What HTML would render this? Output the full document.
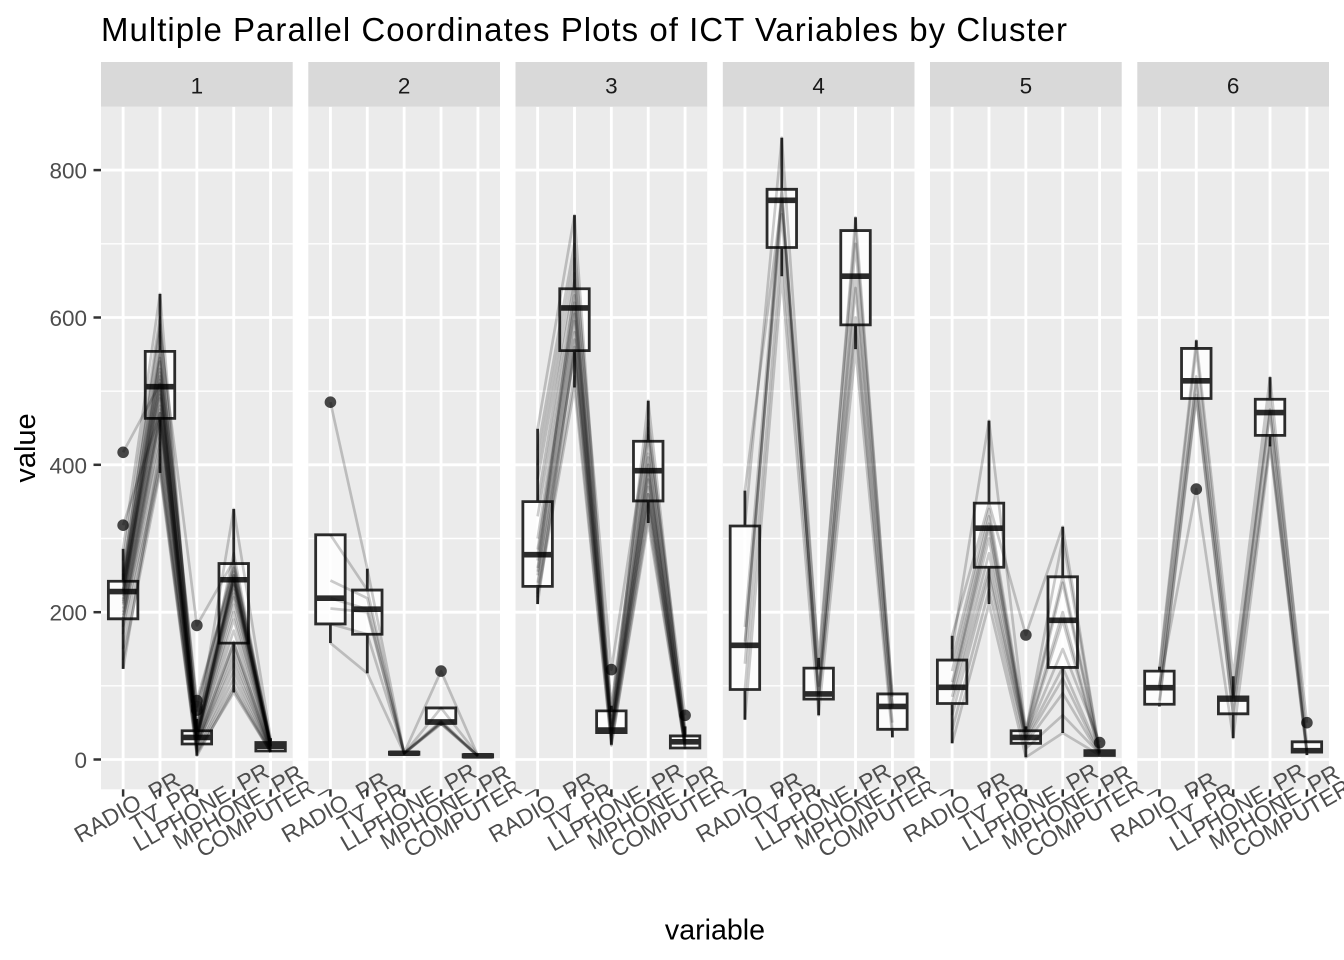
<!DOCTYPE html>
<html><head><meta charset="utf-8"><style>
html,body{margin:0;padding:0;background:#fff}
svg{display:block}
.bx{fill:#fff;fill-opacity:.85;stroke:#2b2b2b;stroke-width:2.8;vector-effect:non-scaling-stroke}
.wk{stroke:#2b2b2b;stroke-width:2.8;vector-effect:non-scaling-stroke}
.md{stroke:#2b2b2b;stroke-width:5.6;vector-effect:non-scaling-stroke}
.ln polyline{fill:none;stroke:#000;stroke-opacity:.2;stroke-width:2.7;stroke-linejoin:round;vector-effect:non-scaling-stroke}
.gmin line{stroke:#fff;stroke-width:1.42}
.gmaj line{stroke:#fff;stroke-width:2.84}
.tk line{stroke:#333;stroke-width:2.5}
.st{font-family:"Liberation Sans",Arial,sans-serif;font-size:22.5px;fill:#1A1A1A;text-anchor:middle}
.xl{font-family:"Liberation Sans",Arial,sans-serif;font-size:23px;fill:#4D4D4D;text-anchor:middle;dominant-baseline:central}
.yl{font-family:"Liberation Sans",Arial,sans-serif;font-size:22.5px;fill:#4D4D4D;text-anchor:end}
.out{fill:#333;fill-opacity:.9}
</style></head><body>
<svg width="1344" height="960" viewBox="0 0 1344 960" xmlns="http://www.w3.org/2000/svg">
<rect width="1344" height="960" fill="#fff"/>
<text x="101" y="41" font-family="Liberation Sans, Arial, sans-serif" font-size="33" fill="#000" textLength="966" lengthAdjust="spacing">Multiple Parallel Coordinates Plots of ICT Variables by Cluster</text>

<!-- y axis -->
<g class="yl">
<text x="87" y="768">0</text>
<text x="87" y="620.7">200</text>
<text x="87" y="473.3">400</text>
<text x="87" y="326">600</text>
<text x="87" y="178.6">800</text>
</g>
<g class="tk">
<line x1="93.5" x2="101" y1="759.5" y2="759.5"/>
<line x1="93.5" x2="101" y1="612.2" y2="612.2"/>
<line x1="93.5" x2="101" y1="464.8" y2="464.8"/>
<line x1="93.5" x2="101" y1="317.5" y2="317.5"/>
<line x1="93.5" x2="101" y1="170.1" y2="170.1"/>
</g>
<text transform="translate(35,448) rotate(-90)" text-anchor="middle" font-family="Liberation Sans, Arial, sans-serif" font-size="29" fill="#000">value</text>
<text x="715" y="939.5" text-anchor="middle" font-family="Liberation Sans, Arial, sans-serif" font-size="28.6" fill="#000">variable</text>

<!-- ================= PANEL 1 ================= -->
<g transform="translate(101,0)">
<rect x="0" y="106.7" width="191.7" height="682.6" fill="#EBEBEB"/>
<g class="gmin"><line x1="0" x2="191.7" y1="685.8" y2="685.8"/><line x1="0" x2="191.7" y1="538.5" y2="538.5"/><line x1="0" x2="191.7" y1="391.2" y2="391.2"/><line x1="0" x2="191.7" y1="243.8" y2="243.8"/></g>
<g class="gmaj"><line x1="0" x2="191.7" y1="759.5" y2="759.5"/><line x1="0" x2="191.7" y1="612.2" y2="612.2"/><line x1="0" x2="191.7" y1="464.8" y2="464.8"/><line x1="0" x2="191.7" y1="317.5" y2="317.5"/><line x1="0" x2="191.7" y1="170.1" y2="170.1"/>
<line x1="22.12" x2="22.12" y1="106.7" y2="789.3"/><line x1="58.99" x2="58.99" y1="106.7" y2="789.3"/><line x1="95.86" x2="95.86" y1="106.7" y2="789.3"/><line x1="132.73" x2="132.73" y1="106.7" y2="789.3"/><line x1="169.6" x2="169.6" y1="106.7" y2="789.3"/></g>
<rect x="0" y="62" width="191.7" height="44.7" fill="#D9D9D9"/>
<text class="st" x="95.85" y="93.5">1</text>
<g class="tk"><line x1="22.12" x2="22.12" y1="789.3" y2="796.6"/><line x1="58.99" x2="58.99" y1="789.3" y2="796.6"/><line x1="95.86" x2="95.86" y1="789.3" y2="796.6"/><line x1="132.73" x2="132.73" y1="789.3" y2="796.6"/><line x1="169.6" x2="169.6" y1="789.3" y2="796.6"/></g>
<g transform="translate(-14.75,759.5) scale(36.87,-0.7367)">
<rect class="bx" x="0.6" y="191" width="0.8" height="51"/><line class="wk" x1="1" x2="1" y1="242" y2="286"/><line class="wk" x1="1" x2="1" y1="123" y2="191"/><line class="md" x1="0.6" x2="1.4" y1="228" y2="228"/>
<rect class="bx" x="1.6" y="463" width="0.8" height="91"/><line class="wk" x1="2" x2="2" y1="554" y2="632"/><line class="wk" x1="2" x2="2" y1="389" y2="463"/><line class="md" x1="1.6" x2="2.4" y1="506" y2="506"/>
<rect class="bx" x="2.6" y="21" width="0.8" height="18"/><line class="wk" x1="3" x2="3" y1="39" y2="55"/><line class="wk" x1="3" x2="3" y1="5" y2="21"/><line class="md" x1="2.6" x2="3.4" y1="30" y2="30"/>
<rect class="bx" x="3.6" y="158" width="0.8" height="108"/><line class="wk" x1="4" x2="4" y1="266" y2="340"/><line class="wk" x1="4" x2="4" y1="91" y2="158"/><line class="md" x1="3.6" x2="4.4" y1="244" y2="244"/>
<rect class="bx" x="4.6" y="11.5" width="0.8" height="11.5"/><line class="wk" x1="5" x2="5" y1="23" y2="29"/><line class="wk" x1="5" x2="5" y1="10" y2="11.5"/><line class="md" x1="4.6" x2="5.4" y1="18" y2="18"/>
</g>
<g class="out"><circle cx="22.12" cy="452.3" r="5.8"/><circle cx="22.12" cy="525.2" r="5.8"/><circle cx="95.86" cy="625.4" r="5.8"/><circle cx="95.86" cy="700.6" r="5.8"/><circle cx="95.86" cy="706.5" r="5.8"/><circle cx="95.86" cy="710.1" r="5.8"/></g>
<g class="ln" transform="translate(-14.75,759.5) scale(36.87,-0.7367)">
<polyline points="1,417 2,510 3,30 4,250 5,20"/>
<polyline points="1,318 2,470 3,35 4,240 5,18"/>
<polyline points="1,286 2,632 3,25 4,260 5,22"/>
<polyline points="1,270 2,600 3,40 4,340 5,29"/>
<polyline points="1,255 2,580 3,182 4,270 5,25"/>
<polyline points="1,248 2,560 3,72 4,266 5,24"/>
<polyline points="1,245 2,554 3,67 4,262 5,23"/>
<polyline points="1,242 2,550 3,80 4,255 5,21"/>
<polyline points="1,240 2,540 3,50 4,250 5,20"/>
<polyline points="1,236 2,530 3,45 4,248 5,20"/>
<polyline points="1,232 2,520 3,39 4,246 5,19"/>
<polyline points="1,230 2,515 3,36 4,244 5,19"/>
<polyline points="1,228 2,510 3,34 4,244 5,18"/>
<polyline points="1,228 2,506 3,32 4,240 5,18"/>
<polyline points="1,226 2,500 3,31 4,236 5,18"/>
<polyline points="1,222 2,495 3,30 4,230 5,17"/>
<polyline points="1,218 2,490 3,29 4,220 5,17"/>
<polyline points="1,215 2,480 3,28 4,200 5,16"/>
<polyline points="1,210 2,475 3,26 4,190 5,15"/>
<polyline points="1,205 2,470 3,24 4,175 5,14"/>
<polyline points="1,200 2,465 3,22 4,160 5,13"/>
<polyline points="1,196 2,463 3,21 4,158 5,12"/>
<polyline points="1,192 2,455 3,20 4,150 5,12"/>
<polyline points="1,191 2,440 3,18 4,140 5,11"/>
<polyline points="1,188 2,430 3,15 4,120 5,11"/>
<polyline points="1,180 2,410 3,12 4,110 5,10"/>
<polyline points="1,170 2,400 3,10 4,100 5,10"/>
<polyline points="1,150 2,395 3,8 4,91 5,10"/>
<polyline points="1,135 2,389 3,5 4,95 5,10"/>
<polyline points="1,123 2,420 3,20 4,130 5,12"/>
<polyline points="1,250 2,590 3,42 4,280 5,22"/>
<polyline points="1,212 2,545 3,28 4,225 5,18"/>
<polyline points="1,238 2,525 3,33 4,210 5,16"/>
</g>
<g class="xl">
<text transform="translate(26,807) rotate(-30)">RADIO_PR</text>
<text transform="translate(63,807) rotate(-30)">TV_PR</text>
<text transform="translate(99.9,807) rotate(-30)">LLPHONE_PR</text>
<text transform="translate(136.7,807) rotate(-30)">MPHONE_PR</text>
<text transform="translate(173.6,807) rotate(-30)">COMPUTER_PR</text>
</g>
</g>

<!-- ================= PANEL 2 ================= -->
<g transform="translate(308.3,0)">
<rect x="0" y="106.7" width="191.7" height="682.6" fill="#EBEBEB"/>
<g class="gmin"><line x1="0" x2="191.7" y1="685.8" y2="685.8"/><line x1="0" x2="191.7" y1="538.5" y2="538.5"/><line x1="0" x2="191.7" y1="391.2" y2="391.2"/><line x1="0" x2="191.7" y1="243.8" y2="243.8"/></g>
<g class="gmaj"><line x1="0" x2="191.7" y1="759.5" y2="759.5"/><line x1="0" x2="191.7" y1="612.2" y2="612.2"/><line x1="0" x2="191.7" y1="464.8" y2="464.8"/><line x1="0" x2="191.7" y1="317.5" y2="317.5"/><line x1="0" x2="191.7" y1="170.1" y2="170.1"/>
<line x1="22.12" x2="22.12" y1="106.7" y2="789.3"/><line x1="58.99" x2="58.99" y1="106.7" y2="789.3"/><line x1="95.86" x2="95.86" y1="106.7" y2="789.3"/><line x1="132.73" x2="132.73" y1="106.7" y2="789.3"/><line x1="169.6" x2="169.6" y1="106.7" y2="789.3"/></g>
<rect x="0" y="62" width="191.7" height="44.7" fill="#D9D9D9"/>
<text class="st" x="95.85" y="93.5">2</text>
<g class="tk"><line x1="22.12" x2="22.12" y1="789.3" y2="796.6"/><line x1="58.99" x2="58.99" y1="789.3" y2="796.6"/><line x1="95.86" x2="95.86" y1="789.3" y2="796.6"/><line x1="132.73" x2="132.73" y1="789.3" y2="796.6"/><line x1="169.6" x2="169.6" y1="789.3" y2="796.6"/></g>
<g transform="translate(-14.75,759.5) scale(36.87,-0.7367)">
<rect class="bx" x="0.6" y="184" width="0.8" height="121"/><line class="wk" x1="1" x2="1" y1="158" y2="184"/><line class="md" x1="0.6" x2="1.4" y1="219" y2="219"/>
<rect class="bx" x="1.6" y="170" width="0.8" height="60"/><line class="wk" x1="2" x2="2" y1="230" y2="259"/><line class="wk" x1="2" x2="2" y1="117" y2="170"/><line class="md" x1="1.6" x2="2.4" y1="204" y2="204"/>
<rect class="bx" x="2.6" y="7" width="0.8" height="3"/><line class="md" x1="2.6" x2="3.4" y1="8.5" y2="8.5"/>
<rect class="bx" x="3.6" y="49" width="0.8" height="21"/><line class="wk" x1="4" x2="4" y1="46" y2="49"/><line class="md" x1="3.6" x2="4.4" y1="51" y2="51"/>
<rect class="bx" x="4.6" y="3.5" width="0.8" height="3"/><line class="md" x1="4.6" x2="5.4" y1="5" y2="5"/>
</g>
<g class="out"><circle cx="22.12" cy="402.2" r="5.8"/><circle cx="132.73" cy="671.1" r="5.8"/></g>
<g class="ln" transform="translate(-14.75,759.5) scale(36.87,-0.7367)">
<polyline points="1,485 2,259 3,9 4,120 5,5"/>
<polyline points="1,305 2,230 3,8 4,70 5,6"/>
<polyline points="1,243 2,219 3,9 4,52 5,5"/>
<polyline points="1,219 2,204 3,8 4,51 5,5"/>
<polyline points="1,205 2,200 3,8 4,50 5,5"/>
<polyline points="1,184 2,170 3,9 4,49 5,4"/>
<polyline points="1,158 2,117 3,8 4,48 5,5"/>
</g>
<g class="xl">
<text transform="translate(26,807) rotate(-30)">RADIO_PR</text>
<text transform="translate(63,807) rotate(-30)">TV_PR</text>
<text transform="translate(99.9,807) rotate(-30)">LLPHONE_PR</text>
<text transform="translate(136.7,807) rotate(-30)">MPHONE_PR</text>
<text transform="translate(173.6,807) rotate(-30)">COMPUTER_PR</text>
</g>
</g>

<!-- ================= PANEL 3 ================= -->
<g transform="translate(515.5,0)">
<rect x="0" y="106.7" width="191.7" height="682.6" fill="#EBEBEB"/>
<g class="gmin"><line x1="0" x2="191.7" y1="685.8" y2="685.8"/><line x1="0" x2="191.7" y1="538.5" y2="538.5"/><line x1="0" x2="191.7" y1="391.2" y2="391.2"/><line x1="0" x2="191.7" y1="243.8" y2="243.8"/></g>
<g class="gmaj"><line x1="0" x2="191.7" y1="759.5" y2="759.5"/><line x1="0" x2="191.7" y1="612.2" y2="612.2"/><line x1="0" x2="191.7" y1="464.8" y2="464.8"/><line x1="0" x2="191.7" y1="317.5" y2="317.5"/><line x1="0" x2="191.7" y1="170.1" y2="170.1"/>
<line x1="22.12" x2="22.12" y1="106.7" y2="789.3"/><line x1="58.99" x2="58.99" y1="106.7" y2="789.3"/><line x1="95.86" x2="95.86" y1="106.7" y2="789.3"/><line x1="132.73" x2="132.73" y1="106.7" y2="789.3"/><line x1="169.6" x2="169.6" y1="106.7" y2="789.3"/></g>
<rect x="0" y="62" width="191.7" height="44.7" fill="#D9D9D9"/>
<text class="st" x="95.85" y="93.5">3</text>
<g class="tk"><line x1="22.12" x2="22.12" y1="789.3" y2="796.6"/><line x1="58.99" x2="58.99" y1="789.3" y2="796.6"/><line x1="95.86" x2="95.86" y1="789.3" y2="796.6"/><line x1="132.73" x2="132.73" y1="789.3" y2="796.6"/><line x1="169.6" x2="169.6" y1="789.3" y2="796.6"/></g>
<g transform="translate(-14.75,759.5) scale(36.87,-0.7367)">
<rect class="bx" x="0.6" y="235" width="0.8" height="115"/><line class="wk" x1="1" x2="1" y1="350" y2="449"/><line class="wk" x1="1" x2="1" y1="211" y2="235"/><line class="md" x1="0.6" x2="1.4" y1="278" y2="278"/>
<rect class="bx" x="1.6" y="555" width="0.8" height="84"/><line class="wk" x1="2" x2="2" y1="639" y2="739"/><line class="wk" x1="2" x2="2" y1="505" y2="555"/><line class="md" x1="1.6" x2="2.4" y1="613" y2="613"/>
<rect class="bx" x="2.6" y="36.5" width="0.8" height="29.5"/><line class="wk" x1="3" x2="3" y1="66" y2="73"/><line class="wk" x1="3" x2="3" y1="20" y2="36.5"/><line class="md" x1="2.6" x2="3.4" y1="40" y2="40"/>
<rect class="bx" x="3.6" y="351" width="0.8" height="81"/><line class="wk" x1="4" x2="4" y1="432" y2="487"/><line class="wk" x1="4" x2="4" y1="321" y2="351"/><line class="md" x1="3.6" x2="4.4" y1="392" y2="392"/>
<rect class="bx" x="4.6" y="15.6" width="0.8" height="16.4"/><line class="wk" x1="5" x2="5" y1="32" y2="45"/><line class="wk" x1="5" x2="5" y1="14" y2="15.6"/><line class="md" x1="4.6" x2="5.4" y1="24" y2="24"/>
</g>
<g class="out"><circle cx="95.86" cy="669.6" r="5.8"/><circle cx="169.6" cy="715.3" r="5.8"/></g>
<g class="ln" transform="translate(-14.75,759.5) scale(36.87,-0.7367)">
<polyline points="1,449 2,739 3,40 4,487 5,30"/>
<polyline points="1,420 2,700 3,66 4,460 5,32"/>
<polyline points="1,400 2,680 3,122 4,450 5,60"/>
<polyline points="1,350 2,650 3,60 4,432 5,40"/>
<polyline points="1,330 2,630 3,50 4,415 5,33"/>
<polyline points="1,300 2,620 3,45 4,400 5,30"/>
<polyline points="1,285 2,613 3,40 4,392 5,27"/>
<polyline points="1,278 2,605 3,39 4,388 5,25"/>
<polyline points="1,270 2,595 3,37 4,380 5,24"/>
<polyline points="1,260 2,580 3,35 4,370 5,22"/>
<polyline points="1,250 2,570 3,33 4,360 5,21"/>
<polyline points="1,240 2,555 3,28 4,351 5,19"/>
<polyline points="1,235 2,550 3,25 4,345 5,18"/>
<polyline points="1,225 2,520 3,20 4,330 5,16"/>
<polyline points="1,220 2,505 3,19 4,321 5,15"/>
<polyline points="1,211 2,560 3,36 4,360 5,14"/>
<polyline points="1,255 2,640 3,45 4,410 5,25"/>
<polyline points="1,380 2,660 3,73 4,440 5,45"/>
</g>
<g class="xl">
<text transform="translate(26,807) rotate(-30)">RADIO_PR</text>
<text transform="translate(63,807) rotate(-30)">TV_PR</text>
<text transform="translate(99.9,807) rotate(-30)">LLPHONE_PR</text>
<text transform="translate(136.7,807) rotate(-30)">MPHONE_PR</text>
<text transform="translate(173.6,807) rotate(-30)">COMPUTER_PR</text>
</g>
</g>

<!-- ================= PANEL 4 ================= -->
<g transform="translate(722.8,0)">
<rect x="0" y="106.7" width="191.7" height="682.6" fill="#EBEBEB"/>
<g class="gmin"><line x1="0" x2="191.7" y1="685.8" y2="685.8"/><line x1="0" x2="191.7" y1="538.5" y2="538.5"/><line x1="0" x2="191.7" y1="391.2" y2="391.2"/><line x1="0" x2="191.7" y1="243.8" y2="243.8"/></g>
<g class="gmaj"><line x1="0" x2="191.7" y1="759.5" y2="759.5"/><line x1="0" x2="191.7" y1="612.2" y2="612.2"/><line x1="0" x2="191.7" y1="464.8" y2="464.8"/><line x1="0" x2="191.7" y1="317.5" y2="317.5"/><line x1="0" x2="191.7" y1="170.1" y2="170.1"/>
<line x1="22.12" x2="22.12" y1="106.7" y2="789.3"/><line x1="58.99" x2="58.99" y1="106.7" y2="789.3"/><line x1="95.86" x2="95.86" y1="106.7" y2="789.3"/><line x1="132.73" x2="132.73" y1="106.7" y2="789.3"/><line x1="169.6" x2="169.6" y1="106.7" y2="789.3"/></g>
<rect x="0" y="62" width="191.7" height="44.7" fill="#D9D9D9"/>
<text class="st" x="95.85" y="93.5">4</text>
<g class="tk"><line x1="22.12" x2="22.12" y1="789.3" y2="796.6"/><line x1="58.99" x2="58.99" y1="789.3" y2="796.6"/><line x1="95.86" x2="95.86" y1="789.3" y2="796.6"/><line x1="132.73" x2="132.73" y1="789.3" y2="796.6"/><line x1="169.6" x2="169.6" y1="789.3" y2="796.6"/></g>
<g transform="translate(-14.75,759.5) scale(36.87,-0.7367)">
<rect class="bx" x="0.6" y="95" width="0.8" height="222"/><line class="wk" x1="1" x2="1" y1="317" y2="365"/><line class="wk" x1="1" x2="1" y1="54" y2="95"/><line class="md" x1="0.6" x2="1.4" y1="155" y2="155"/>
<rect class="bx" x="1.6" y="695" width="0.8" height="79"/><line class="wk" x1="2" x2="2" y1="774" y2="844"/><line class="wk" x1="2" x2="2" y1="656" y2="695"/><line class="md" x1="1.6" x2="2.4" y1="759" y2="759"/>
<rect class="bx" x="2.6" y="82" width="0.8" height="42"/><line class="wk" x1="3" x2="3" y1="124" y2="138"/><line class="wk" x1="3" x2="3" y1="60" y2="82"/><line class="md" x1="2.6" x2="3.4" y1="89" y2="89"/>
<rect class="bx" x="3.6" y="590" width="0.8" height="128"/><line class="wk" x1="4" x2="4" y1="718" y2="736"/><line class="wk" x1="4" x2="4" y1="557" y2="590"/><line class="md" x1="3.6" x2="4.4" y1="656" y2="656"/>
<rect class="bx" x="4.6" y="41" width="0.8" height="48"/><line class="wk" x1="5" x2="5" y1="30" y2="41"/><line class="md" x1="4.6" x2="5.4" y1="72" y2="72"/>
</g>
<g class="ln" transform="translate(-14.75,759.5) scale(36.87,-0.7367)">
<polyline points="1,365 2,760 3,138 4,718 5,89"/>
<polyline points="1,317 2,844 3,124 4,736 5,85"/>
<polyline points="1,180 2,774 3,90 4,656 5,72"/>
<polyline points="1,155 2,758 3,89 4,700 5,75"/>
<polyline points="1,130 2,770 3,82 4,590 5,41"/>
<polyline points="1,95 2,695 3,85 4,600 5,50"/>
<polyline points="1,54 2,656 3,60 4,557 5,30"/>
<polyline points="1,160 2,740 3,100 4,640 5,70"/>
</g>
<g class="xl">
<text transform="translate(26,807) rotate(-30)">RADIO_PR</text>
<text transform="translate(63,807) rotate(-30)">TV_PR</text>
<text transform="translate(99.9,807) rotate(-30)">LLPHONE_PR</text>
<text transform="translate(136.7,807) rotate(-30)">MPHONE_PR</text>
<text transform="translate(173.6,807) rotate(-30)">COMPUTER_PR</text>
</g>
</g>

<!-- ================= PANEL 5 ================= -->
<g transform="translate(930,0)">
<rect x="0" y="106.7" width="191.7" height="682.6" fill="#EBEBEB"/>
<g class="gmin"><line x1="0" x2="191.7" y1="685.8" y2="685.8"/><line x1="0" x2="191.7" y1="538.5" y2="538.5"/><line x1="0" x2="191.7" y1="391.2" y2="391.2"/><line x1="0" x2="191.7" y1="243.8" y2="243.8"/></g>
<g class="gmaj"><line x1="0" x2="191.7" y1="759.5" y2="759.5"/><line x1="0" x2="191.7" y1="612.2" y2="612.2"/><line x1="0" x2="191.7" y1="464.8" y2="464.8"/><line x1="0" x2="191.7" y1="317.5" y2="317.5"/><line x1="0" x2="191.7" y1="170.1" y2="170.1"/>
<line x1="22.12" x2="22.12" y1="106.7" y2="789.3"/><line x1="58.99" x2="58.99" y1="106.7" y2="789.3"/><line x1="95.86" x2="95.86" y1="106.7" y2="789.3"/><line x1="132.73" x2="132.73" y1="106.7" y2="789.3"/><line x1="169.6" x2="169.6" y1="106.7" y2="789.3"/></g>
<rect x="0" y="62" width="191.7" height="44.7" fill="#D9D9D9"/>
<text class="st" x="95.85" y="93.5">5</text>
<g class="tk"><line x1="22.12" x2="22.12" y1="789.3" y2="796.6"/><line x1="58.99" x2="58.99" y1="789.3" y2="796.6"/><line x1="95.86" x2="95.86" y1="789.3" y2="796.6"/><line x1="132.73" x2="132.73" y1="789.3" y2="796.6"/><line x1="169.6" x2="169.6" y1="789.3" y2="796.6"/></g>
<g transform="translate(-14.75,759.5) scale(36.87,-0.7367)">
<rect class="bx" x="0.6" y="76" width="0.8" height="59"/><line class="wk" x1="1" x2="1" y1="135" y2="168"/><line class="wk" x1="1" x2="1" y1="22" y2="76"/><line class="md" x1="0.6" x2="1.4" y1="98" y2="98"/>
<rect class="bx" x="1.6" y="261" width="0.8" height="87"/><line class="wk" x1="2" x2="2" y1="348" y2="460"/><line class="wk" x1="2" x2="2" y1="211" y2="261"/><line class="md" x1="1.6" x2="2.4" y1="314" y2="314"/>
<rect class="bx" x="2.6" y="22" width="0.8" height="17"/><line class="wk" x1="3" x2="3" y1="39" y2="45"/><line class="wk" x1="3" x2="3" y1="3" y2="22"/><line class="md" x1="2.6" x2="3.4" y1="30" y2="30"/>
<rect class="bx" x="3.6" y="125" width="0.8" height="123"/><line class="wk" x1="4" x2="4" y1="248" y2="316"/><line class="wk" x1="4" x2="4" y1="36" y2="125"/><line class="md" x1="3.6" x2="4.4" y1="189" y2="189"/>
<rect class="bx" x="4.6" y="5.5" width="0.8" height="6.5"/><line class="wk" x1="5" x2="5" y1="4" y2="5.5"/><line class="md" x1="4.6" x2="5.4" y1="9" y2="9"/>
</g>
<g class="out"><circle cx="95.86" cy="635" r="5.8"/><circle cx="169.6" cy="742.6" r="5.8"/></g>
<g class="ln" transform="translate(-14.75,759.5) scale(36.87,-0.7367)">
<polyline points="1,168 2,348 3,169 4,316 5,10"/>
<polyline points="1,150 2,460 3,38 4,300 5,9"/>
<polyline points="1,135 2,340 3,39 4,248 5,12"/>
<polyline points="1,120 2,330 3,35 4,240 5,10"/>
<polyline points="1,105 2,320 3,32 4,200 5,9"/>
<polyline points="1,98 2,314 3,30 4,189 5,8"/>
<polyline points="1,95 2,300 3,30 4,150 5,23"/>
<polyline points="1,85 2,280 3,28 4,125 5,9"/>
<polyline points="1,76 2,261 3,25 4,110 5,7"/>
<polyline points="1,60 2,250 3,22 4,90 5,6"/>
<polyline points="1,40 2,230 3,15 4,60 5,8"/>
<polyline points="1,22 2,211 3,3 4,36 5,6"/>
</g>
<g class="xl">
<text transform="translate(26,807) rotate(-30)">RADIO_PR</text>
<text transform="translate(63,807) rotate(-30)">TV_PR</text>
<text transform="translate(99.9,807) rotate(-30)">LLPHONE_PR</text>
<text transform="translate(136.7,807) rotate(-30)">MPHONE_PR</text>
<text transform="translate(173.6,807) rotate(-30)">COMPUTER_PR</text>
</g>
</g>

<!-- ================= PANEL 6 ================= -->
<g transform="translate(1137.3,0)">
<rect x="0" y="106.7" width="191.7" height="682.6" fill="#EBEBEB"/>
<g class="gmin"><line x1="0" x2="191.7" y1="685.8" y2="685.8"/><line x1="0" x2="191.7" y1="538.5" y2="538.5"/><line x1="0" x2="191.7" y1="391.2" y2="391.2"/><line x1="0" x2="191.7" y1="243.8" y2="243.8"/></g>
<g class="gmaj"><line x1="0" x2="191.7" y1="759.5" y2="759.5"/><line x1="0" x2="191.7" y1="612.2" y2="612.2"/><line x1="0" x2="191.7" y1="464.8" y2="464.8"/><line x1="0" x2="191.7" y1="317.5" y2="317.5"/><line x1="0" x2="191.7" y1="170.1" y2="170.1"/>
<line x1="22.12" x2="22.12" y1="106.7" y2="789.3"/><line x1="58.99" x2="58.99" y1="106.7" y2="789.3"/><line x1="95.86" x2="95.86" y1="106.7" y2="789.3"/><line x1="132.73" x2="132.73" y1="106.7" y2="789.3"/><line x1="169.6" x2="169.6" y1="106.7" y2="789.3"/></g>
<rect x="0" y="62" width="191.7" height="44.7" fill="#D9D9D9"/>
<text class="st" x="95.85" y="93.5">6</text>
<g class="tk"><line x1="22.12" x2="22.12" y1="789.3" y2="796.6"/><line x1="58.99" x2="58.99" y1="789.3" y2="796.6"/><line x1="95.86" x2="95.86" y1="789.3" y2="796.6"/><line x1="132.73" x2="132.73" y1="789.3" y2="796.6"/><line x1="169.6" x2="169.6" y1="789.3" y2="796.6"/></g>
<g transform="translate(-14.75,759.5) scale(36.87,-0.7367)">
<rect class="bx" x="0.6" y="75" width="0.8" height="45"/><line class="wk" x1="1" x2="1" y1="120" y2="126"/><line class="wk" x1="1" x2="1" y1="72" y2="75"/><line class="md" x1="0.6" x2="1.4" y1="97.5" y2="97.5"/>
<rect class="bx" x="1.6" y="490" width="0.8" height="68"/><line class="wk" x1="2" x2="2" y1="558" y2="569"/><line class="md" x1="1.6" x2="2.4" y1="514" y2="514"/>
<rect class="bx" x="2.6" y="62" width="0.8" height="23"/><line class="wk" x1="3" x2="3" y1="85" y2="113"/><line class="wk" x1="3" x2="3" y1="29" y2="62"/><line class="md" x1="2.6" x2="3.4" y1="82" y2="82"/>
<rect class="bx" x="3.6" y="440" width="0.8" height="49"/><line class="wk" x1="4" x2="4" y1="489" y2="519"/><line class="wk" x1="4" x2="4" y1="425" y2="440"/><line class="md" x1="3.6" x2="4.4" y1="471" y2="471"/>
<rect class="bx" x="4.6" y="10" width="0.8" height="14"/><line class="wk" x1="5" x2="5" y1="6" y2="10"/><line class="md" x1="4.6" x2="5.4" y1="12" y2="12"/>
</g>
<g class="out"><circle cx="58.99" cy="489.1" r="5.8"/><circle cx="169.6" cy="722.7" r="5.8"/></g>
<g class="ln" transform="translate(-14.75,759.5) scale(36.87,-0.7367)">
<polyline points="1,126 2,569 3,113 4,519 5,24"/>
<polyline points="1,120 2,558 3,85 4,489 5,50"/>
<polyline points="1,100 2,520 3,84 4,475 5,12"/>
<polyline points="1,97 2,514 3,82 4,471 5,12"/>
<polyline points="1,80 2,495 3,62 4,440 5,10"/>
<polyline points="1,75 2,490 3,60 4,430 5,8"/>
<polyline points="1,100 2,367 3,29 4,425 5,6"/>
</g>
<g class="xl">
<text transform="translate(26,807) rotate(-30)">RADIO_PR</text>
<text transform="translate(63,807) rotate(-30)">TV_PR</text>
<text transform="translate(99.9,807) rotate(-30)">LLPHONE_PR</text>
<text transform="translate(136.7,807) rotate(-30)">MPHONE_PR</text>
<text transform="translate(173.6,807) rotate(-30)">COMPUTER_PR</text>
</g>
</g>
</svg>
</body></html>
